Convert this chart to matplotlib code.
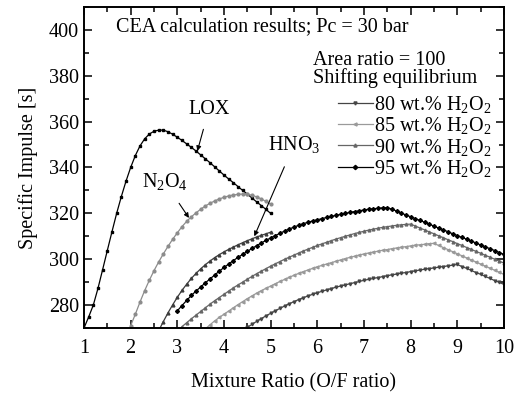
import numpy as np
import matplotlib
matplotlib.use("Agg")
import matplotlib.pyplot as plt
from matplotlib.lines import Line2D

plt.rcParams['font.family'] = ['Liberation Serif', 'DejaVu Serif']
plt.rcParams['mathtext.fontset'] = 'custom'
plt.rcParams['mathtext.rm'] = 'Liberation Serif'
plt.rcParams['mathtext.it'] = 'Liberation Serif:italic'
plt.rcParams['font.size'] = 14.5

# ---- data (O/F ratio, Isp [s]), step 0.1 in O/F
lox_start = 1.0
lox_isp = [270.0, 274.8, 280.0, 287.3, 295.5, 303.8, 312.0, 320.0, 327.3, 334.0,
           340.0, 345.2, 349.4, 352.5, 354.6, 355.8, 356.3, 356.3, 355.6, 354.5,
           353.2, 351.8, 350.3, 348.8, 347.2, 345.5, 343.8, 342.1, 340.3, 338.5,
           336.7, 335.0, 333.4, 331.7, 330.0, 328.4, 326.7, 325.0, 323.4, 321.7,
           320.0]

n2o4_start = 2.0
n2o4_isp = [271.0, 276.0, 281.3, 286.3, 290.8, 295.0, 298.8, 302.3, 305.6, 308.7,
            311.5, 314.2, 316.5, 318.5, 320.2, 321.8, 323.2, 324.4, 325.4, 326.3,
            327.0, 327.6, 328.0, 328.3, 328.4, 328.3, 327.9, 327.2, 326.3, 325.2,
            324.0]

hno3_start = 2.6
hno3_isp = [268.8, 272.8, 276.6, 280.1, 283.4, 286.4, 289.1, 291.6, 293.8, 295.8,
            297.6, 299.2, 300.7, 302.0, 303.2, 304.3, 305.3, 306.3, 307.2, 308.1,
            308.9, 309.7, 310.4, 311.1, 311.8]

h2o2_80_start = 4.5
h2o2_80 = [270.3, 271.6, 272.9, 274.1, 275.3, 276.4, 277.5, 278.6, 279.6, 280.6,
           281.5, 282.4, 283.2, 284.0, 284.7, 285.4, 286.0, 286.6, 287.2, 287.8,
           288.3, 288.8, 289.3, 289.8, 290.3, 290.8, 291.2, 291.6, 292.0, 292.4,
           292.8, 293.2, 293.5, 293.9, 294.2, 294.6, 294.9, 295.3, 295.6, 295.9,
           296.2, 296.5, 296.8, 297.1, 297.4, 297.7, 296.8, 296.0, 295.1, 294.2,
           293.4, 292.5, 291.6, 290.7, 289.9, 289.0]

h2o2_85_start = 3.6
h2o2_85 = [269.6, 271.4, 273.1, 274.6, 276.0, 277.4, 278.8, 280.2, 281.5, 282.8,
           284.0, 285.2, 286.3, 287.3, 288.3, 289.3, 290.3, 291.2, 292.1, 293.0,
           293.8, 294.6, 295.3, 296.0, 296.7, 297.3, 297.9, 298.5, 299.1, 299.7,
           300.3, 300.8, 301.3, 301.8, 302.3, 302.7, 303.1, 303.5, 303.9, 304.2,
           304.6, 304.9, 305.2, 305.5, 305.8, 306.1, 306.3, 306.5, 306.8, 306.9,
           306.0, 305.1, 304.2, 303.3, 302.4, 301.5, 300.6, 299.7, 298.8, 297.9,
           297.0, 296.1, 295.2, 294.3, 293.4]

h2o2_90_start = 3.1
h2o2_90 = [270.6, 272.3, 274.0, 275.6, 277.2, 278.8, 280.4, 281.9, 283.3, 284.7,
           286.1, 287.5, 288.8, 290.0, 291.3, 292.5, 293.7, 294.8, 295.9, 297.0,
           298.0, 299.0, 300.0, 300.9, 301.8, 302.7, 303.6, 304.4, 305.2, 306.0,
           306.7, 307.4, 308.1, 308.8, 309.4, 310.0, 310.6, 311.2, 311.7, 312.2,
           312.7, 313.1, 313.5, 313.9, 314.2, 314.5, 314.8, 315.0, 315.2, 315.3,
           314.5, 313.6, 312.8, 311.9, 311.1, 310.2, 309.4, 308.5, 307.7, 306.8,
           306.0, 305.1, 304.3, 303.4, 302.6, 301.7, 300.9, 300.0, 299.2, 298.3]

h2o2_95_start = 3.0
h2o2_95 = [277.5, 279.8, 282.0, 284.2, 286.1, 287.9, 289.7, 291.4, 293.1, 294.8,
           296.4, 297.9, 299.4, 300.8, 302.1, 303.4, 304.7, 305.9, 307.1, 308.2,
           309.3, 310.3, 311.3, 312.3, 313.2, 314.0, 314.8, 315.5, 316.1, 316.7,
           317.2, 317.7, 318.2, 318.7, 319.1, 319.6, 320.0, 320.4, 320.8, 321.1,
           321.5, 321.8, 322.0, 322.2, 322.4, 322.5, 321.8, 321.0, 320.1, 319.3,
           318.5, 317.7, 316.9, 316.1, 315.3, 314.4, 313.6, 312.8, 312.0, 311.1,
           310.3, 309.5, 308.7, 307.9, 307.1, 306.2, 305.4, 304.6, 303.8, 302.9,
           302.1]

h2o2_labels = ['80 wt.% H$_2$O$_2$', '85 wt.% H$_2$O$_2$',
               '90 wt.% H$_2$O$_2$', '95 wt.% H$_2$O$_2$']


def of_axis(start, vals):
    return start + 0.1 * np.arange(len(vals))


fig = plt.figure(figsize=(5.2, 3.95), dpi=100)
ax = fig.add_axes([0.1615, 0.1696, 0.8077, 0.8127])

lw = 0.9
ax.plot(of_axis(lox_start, lox_isp), lox_isp, color='black', lw=lw,
        marker='s', ms=1.8)
ax.plot(of_axis(n2o4_start, n2o4_isp), n2o4_isp, color='#8c8c8c', lw=lw,
        marker='o', ms=2.0)
ax.plot(of_axis(hno3_start, hno3_isp), hno3_isp, color='#3c3c3c', lw=lw,
        marker='^', ms=2.0)

styles = [('#454545', 'v'), ('#9a9a9a', '<'), ('#666666', '^'), ('black', 'D')]
series = [(h2o2_80_start, h2o2_80), (h2o2_85_start, h2o2_85),
          (h2o2_90_start, h2o2_90), (h2o2_95_start, h2o2_95)]
handles = []
for (st, vals), (col, mk), lab in zip(series, styles, h2o2_labels):
    ax.plot(of_axis(st, vals), vals, color=col, lw=lw, marker=mk, ms=2.0)
    handles.append(Line2D([], [], color=col, lw=lw, marker=mk, ms=2.2, label=lab))

ax.set_xlim(1, 10)
ax.set_ylim(270, 410)
ax.set_xticks(np.arange(1, 11, 1))
ax.set_xticks(np.arange(1, 10.01, 0.5), minor=True)
ax.set_yticks(np.arange(280, 401, 20))
ax.set_yticks(np.arange(270, 411, 10), minor=True)
ax.tick_params(which='both', direction='in', top=True, right=True, width=1.1)
ax.tick_params(which='major', length=6, labelsize=14.5)
ax.tick_params(which='minor', length=3.5)
ax.tick_params(axis='x', pad=8)
for sp in ax.spines.values():
    sp.set_linewidth(1.4)

ax.set_xlabel('Mixture Ratio (O/F ratio)', fontsize=14.5, labelpad=11)
ax.set_ylabel('Specific Impulse [s]', fontsize=14.5, labelpad=8)

ax.text(1.69, 401.2, 'CEA calculation results; Pc = 30 bar', va='center')
ax.text(5.9, 386.8, 'Area ratio = 100', va='center')
ax.text(5.9, 378.9, 'Shifting equilibrium', va='center')

leg = ax.legend(handles=handles, loc='upper left', bbox_to_anchor=(0.585, 0.755),
                frameon=False, fontsize=14.5, handlelength=1.75, handletextpad=0.05,
                labelspacing=0.02, borderaxespad=0, numpoints=1)

arrow = dict(arrowstyle='-|>', color='black', lw=0.8, mutation_scale=7)
ax.annotate('LOX', xy=(3.43, 347.2), xytext=(3.68, 365.5), ha='center', va='center',
            arrowprops=dict(arrow, shrinkA=6, shrinkB=0))
ax.annotate('N$_2$O$_4$', xy=(3.25, 318.0), xytext=(2.73, 333.7), ha='center',
            va='center', arrowprops=dict(arrow, shrinkA=7, shrinkB=0))
ax.annotate('HNO$_3$', xy=(4.65, 310.0), xytext=(5.5, 350.0), ha='center',
            va='center', arrowprops=dict(arrow, shrinkA=7, shrinkB=0))

fig.savefig('out.png', dpi=100)
